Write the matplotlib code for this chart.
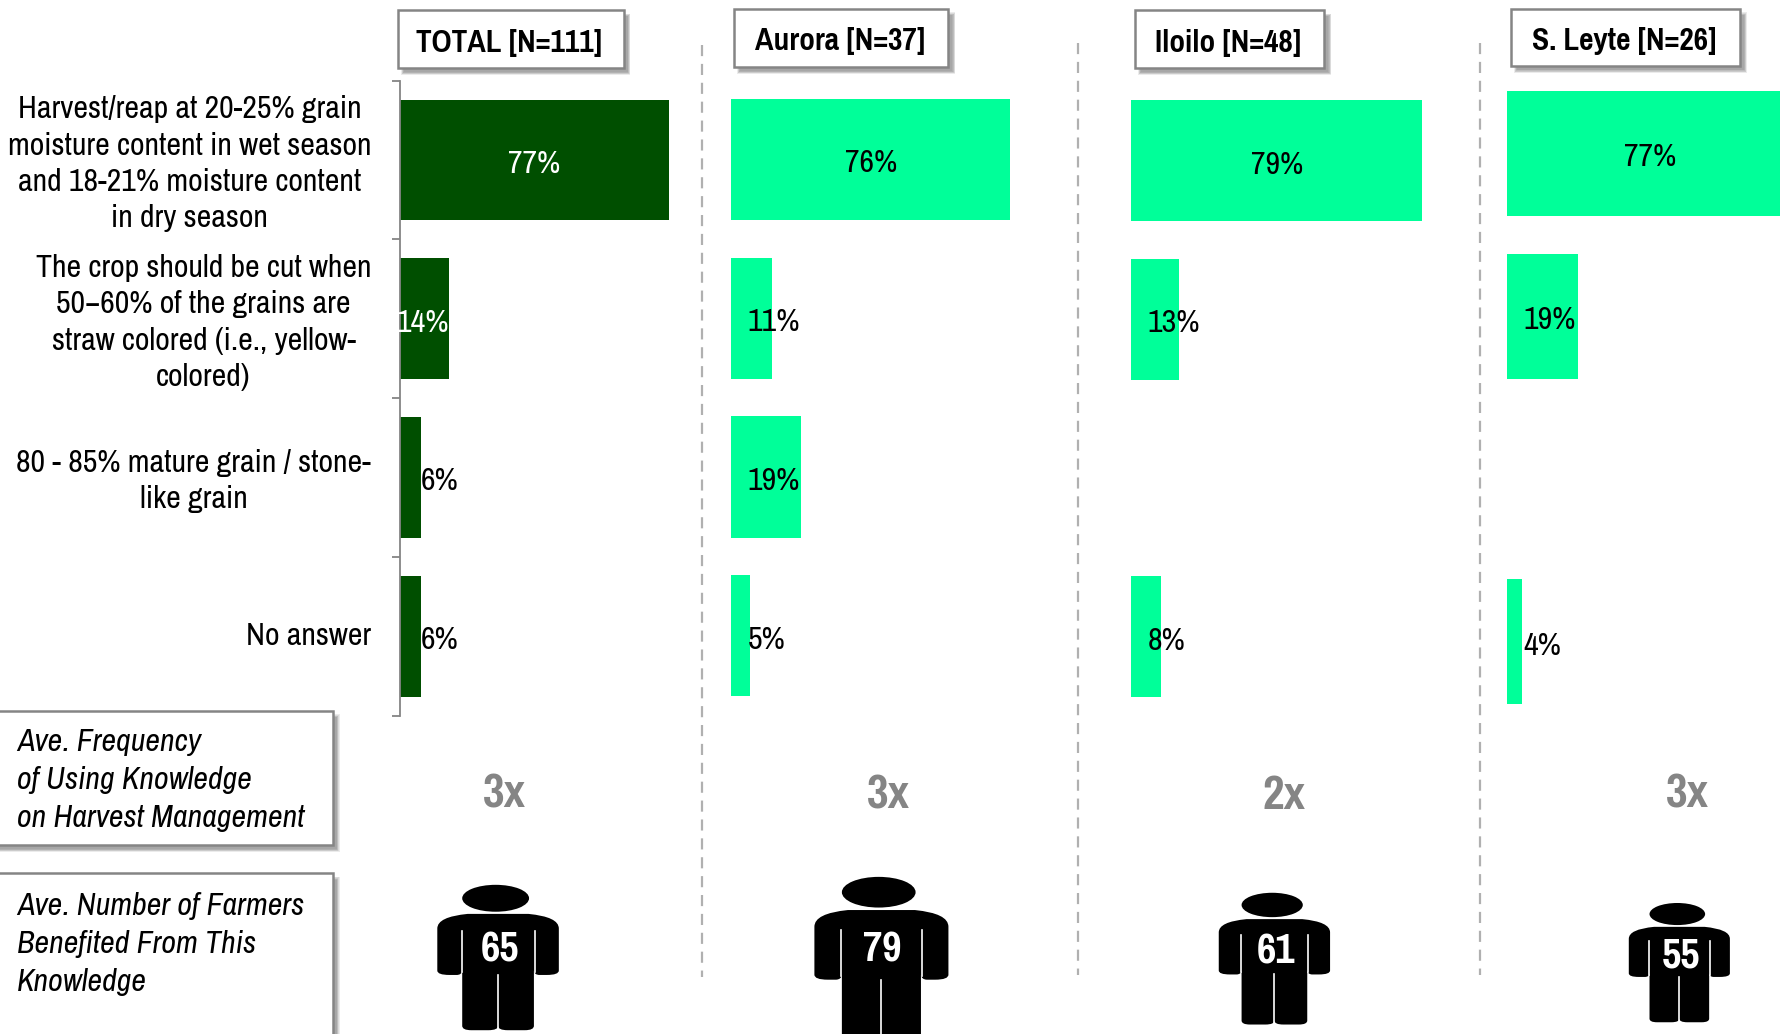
import matplotlib
matplotlib.use("Agg")
import matplotlib.pyplot as plt
import numpy as np
from matplotlib.patches import Rectangle, Ellipse, PathPatch
from matplotlib.path import Path
from matplotlib.transforms import ScaledTranslation

REGULAR = ['Archivo Narrow', 'Liberation Sans', 'DejaVu Sans']
BOLD = ['Pragati Narrow', 'Liberation Sans', 'DejaVu Sans']
plt.rcParams['font.family'] = REGULAR

# data
categories = ["Harvest/reap at 20-25% grain\nmoisture content in wet season\nand 18-21% moisture content\nin dry season",
              "The crop should be cut when\n50\u221260% of the grains are\nstraw colored (i.e., yellow-\ncolored)",
              "80 - 85% mature grain / stone-\nlike grain",
              "No answer"]
groups = ["TOTAL [N=111]", "Aurora [N=37]", "Iloilo [N=48]", "S. Leyte [N=26]"]
total = [77, 14, 6, 6]
aurora = [76, 11, 19, 5]
iloilo = [79, 13, 0, 8]
leyte = [77, 19, 0, 4]
frequency = ["3x", "3x", "2x", "3x"]
farmers = [65, 79, 61, 55]
row_titles = ["Ave. Frequency\nof Using Knowledge\non Harvest Management",
              "Ave. Number of Farmers\nBenefited From This\nKnowledge"]

DARK = "#004f00"
BRIGHT = "#00ff99"
GREY = "#858585"

W, H = 1781, 1034
S = W / 1568          # layout below is measured on the 1568 wide view
fig = plt.figure(figsize=(W / 100, H / 100), dpi=100, facecolor="white")


def panel(left, top, bottom, px_per_pct, bar_h):
    x0, wd = left * S / W, 100 * px_per_pct / W
    y0, ht = 1 - bottom * S / H, (bottom - top) * S / H
    ax = fig.add_axes([x0, y0, wd, ht])
    ax.set_xlim(0, 100)
    ax.set_ylim(4, 0)
    ax.patch.set_alpha(0)
    return ax, bar_h


ypos = np.arange(4) + 0.5
values = [total, aurora, iloilo, leyte]
specs = [(352, 71, 630, 3.49, 0.76), (644, 70.5, 629.5, 3.67, 0.764),
         (996, 71.5, 630.5, 3.68, 0.764), (1327, 63.5, 636.5, 3.72, 0.77)]

for i, (vals, sp) in enumerate(zip(values, specs)):
    ax, bar_h = panel(*sp)
    ax.barh(ypos, vals, height=bar_h, color=DARK if i == 0 else BRIGHT)
    for y, v in zip(ypos, vals):
        if v == 0:
            continue
        label = f"{v}%"
        if v > 50:
            ax.annotate(label, (v / 2, y), xytext=(0, -4), textcoords="offset pixels",
                        ha="center", va="center", fontsize=23,
                        color="white" if i == 0 else "black")
        elif i == 0 and v == 14:
            ax.annotate(label, (v / 2, y), xytext=(-2, -4), textcoords="offset pixels",
                        ha="center", va="center", fontsize=23, color="white")
        elif i == 0:
            ax.annotate(label, (v, y), xytext=(0, -4), textcoords="offset pixels",
                        ha="left", va="center", fontsize=23)
        else:
            ax.annotate(label, (0, y), xytext=(16, -4), textcoords="offset pixels",
                        ha="left", va="center", fontsize=23)
    if i == 0:
        for s in ["top", "right", "bottom"]:
            ax.spines[s].set_visible(False)
        ax.spines["left"].set_color(GREY)
        ax.spines["left"].set_linewidth(1.3)
        ax.xaxis.set_visible(False)
        ax.set_yticks(ypos)
        ax.set_yticklabels(categories, fontsize=23, ma="center", linespacing=1.36)
        ax.set_yticks(np.arange(5), minor=True)
        ax.tick_params(axis="y", which="major", length=0, pad=20.5)
        ax.tick_params(axis="y", which="minor", length=6, width=1.3, color=GREY)
        # labels sit a little above the row centre
        shift = ScaledTranslation(0, 3 / 100, fig.dpi_scale_trans)
        for lab in ax.get_yticklabels():
            lab.set_transform(lab.get_transform() + shift)
    else:
        ax.set_axis_off()

# everything else goes on a full figure overlay
ov = fig.add_axes([0, 0, 1, 1], zorder=5)
ov.set_xlim(0, 1568)
ov.set_ylim(H / S, 0)
ov.set_axis_off()
ov.patch.set_alpha(0)


def box(x0, y0, x1, y1):
    for k in range(6):
        ov.add_patch(Rectangle((x0 + 3 + k * 0.5, y0 + 3 + k * 0.5),
                               x1 - x0 + 3 - k, y1 - y0 + 3 - k,
                               fc="#606060", ec="none", alpha=0.12))
    ov.add_patch(Rectangle((x0, y0), x1 - x0, y1 - y0, fc="white", ec=GREY, lw=1.8))


headers = [(350, 9, 549, 60), (646, 8, 835, 59), (999, 9, 1166, 60), (1330, 8, 1532, 58)]
for g, (x0, y0, x1, y1) in zip(groups, headers):
    box(x0, y0, x1, y1)
    ov.text((x0 + x1) / 2 - 1, (y0 + y1) / 2 + 3, g, ha="center", va="center",
            fontsize=24.5, fontweight="bold", family=BOLD)

box(-10, 626, 293, 744)
box(-10, 769, 293, 930)
ov.text(15, 687, row_titles[0], style="italic", fontsize=23, va="center", linespacing=1.43)
ov.text(15, 831, row_titles[1], style="italic", fontsize=23, va="center", linespacing=1.43)

# dashed separators
for x, y0, y1 in [(618, 40, 860), (949, 38, 858), (1303, 38, 858)]:
    ov.plot([x, x], [y0, y1], color="#b0b0b0", lw=1.6, dashes=(5, 3.5))

for f, x, y in zip(frequency, [444, 782, 1130, 1486], [699, 700, 700, 699]):
    ov.text(x, y, f, ha="center", va="center", fontsize=37, fontweight="bold",
            color=GREY, family=BOLD)

# person icon, unit box: x 0-1, y 0-1 going down
body_v = [(0, .30), (0, .22), (.25, .20), (.75, .20), (1, .22), (1, .30),
          (1, .59), (1, .62), (.9, .62), (.84, .62), (.8, .62), (.795, .59),
          (.795, .97), (.795, 1), (.72, 1), (.58, 1), (.5, 1), (.5, .97),
          (.5, 1), (.42, 1), (.28, 1), (.205, 1), (.205, .97), (.205, .59),
          (.2, .62), (.16, .62), (.1, .62), (0, .62), (0, .59), (0, .30)]
body_c = [Path.MOVETO, Path.CURVE3, Path.CURVE3, Path.LINETO, Path.CURVE3, Path.CURVE3,
          Path.LINETO, Path.CURVE3, Path.CURVE3, Path.LINETO, Path.CURVE3, Path.CURVE3,
          Path.LINETO, Path.CURVE3, Path.CURVE3, Path.LINETO, Path.CURVE3, Path.CURVE3,
          Path.CURVE3, Path.CURVE3, Path.LINETO, Path.CURVE3, Path.CURVE3, Path.LINETO,
          Path.CURVE3, Path.CURVE3, Path.LINETO, Path.CURVE3, Path.CURVE3, Path.CLOSEPOLY]
body_v = np.array(body_v, dtype=float)


def person(x0, y0, x1, y1, n, tx, ty):
    w, h = x1 - x0, y1 - y0
    ov.add_patch(PathPatch(Path(body_v * [w, h] + [x0, y0], body_c), fc="black", ec="none"))
    ov.add_patch(Ellipse((x0 + .48 * w, y0 + .0925 * h), .55 * w, .185 * h, fc="black", ec="none"))
    for ux, a, b in [(.2, .32, .6), (.8, .32, .6), (.5, .62, 1)]:
        ov.plot([x0 + ux * w] * 2, [y0 + a * h, y0 + b * h], color="white", lw=1.2)
    ov.text(tx, ty, str(n), ha="center", va="center", color="white",
            fontsize=33, fontweight="bold", family=BOLD)


boxes = [(385, 779, 492, 907), (717, 772, 835, 918), (1073, 786, 1171, 902), (1434, 795, 1523, 900)]
num_xy = [(440, 836), (777, 836), (1123, 838), (1480, 841)]
for n, b, t in zip(farmers, boxes, num_xy):
    person(*b, n, *t)

fig.savefig("out.png", dpi=100)
